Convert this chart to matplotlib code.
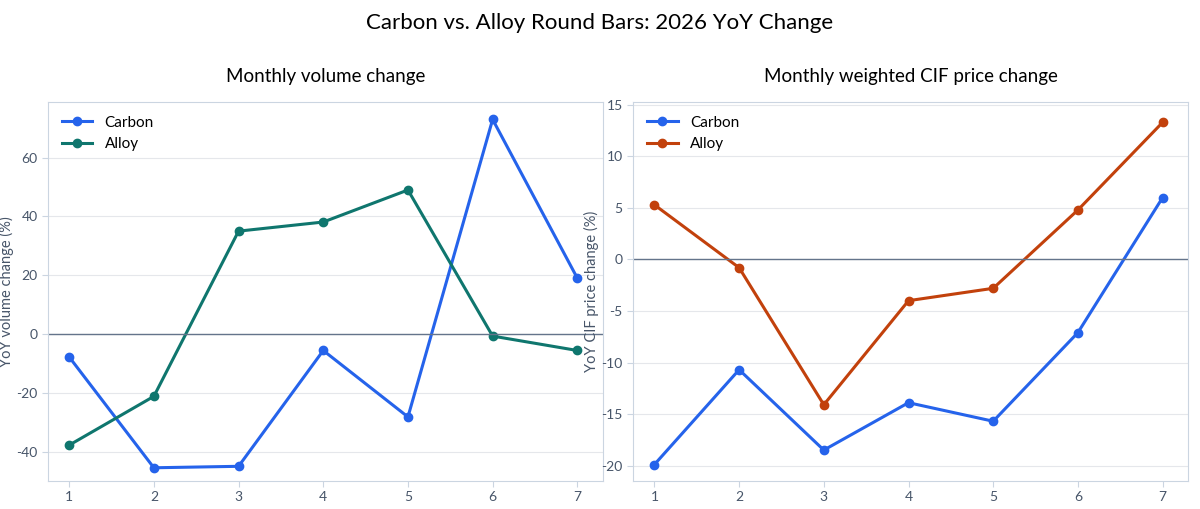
import matplotlib
matplotlib.use("Agg")
import matplotlib.pyplot as plt

plt.rcParams['font.family'] = ['Lato', 'DejaVu Sans']
plt.rcParams['axes.unicode_minus'] = False

months = [1, 2, 3, 4, 5, 6, 7]
vol_carbon = [-7.8, -45.5, -45.0, -5.6, -28.2, 73.0, 19.0]
vol_alloy = [-37.8, -21.2, 35.0, 38.1, 49.0, -0.7, -5.6]
price_carbon = [-19.9, -10.7, -18.5, -13.9, -15.7, -7.1, 6.0]
price_alloy = [5.3, -0.8, -14.1, -4.0, -2.8, 4.8, 13.3]

blue = '#2563eb'
green = '#0f766e'
orange = '#c2410c'
spine = '#cbd5e1'
txt = '#475569'

fig, axes = plt.subplots(1, 2, figsize=(12, 5.09), dpi=100)
fig.subplots_adjust(left=0.04, right=0.99, top=0.80, bottom=0.055, wspace=0.055)
fig.suptitle('Carbon vs. Alloy Round Bars: 2026 YoY Change', fontsize=16, y=0.975)

def style(ax, title, ylabel):
    ax.set_title(title, fontsize=13.5, pad=14)
    ax.set_ylabel(ylabel, fontsize=10.5, color=txt, labelpad=2)
    ax.grid(axis='y', color='#e5e7eb', lw=0.8)
    ax.set_axisbelow(True)
    ax.axhline(0, color='#64748b', lw=1)
    for s in ax.spines.values():
        s.set_color(spine)
    ax.tick_params(colors=txt, labelsize=10, length=4, color=spine)
    ax.set_xticks(months)
    ax.set_xlim(0.75, 7.3)
    ax.legend(loc='upper left', frameon=False, fontsize=11)

ax = axes[0]
ax.plot(months, vol_carbon, '-o', color=blue, lw=2.2, ms=6, label='Carbon')
ax.plot(months, vol_alloy, '-o', color=green, lw=2.2, ms=6, label='Alloy')
ax.set_ylim(-50, 79)
ax.set_yticks([-40, -20, 0, 20, 40, 60])
style(ax, 'Monthly volume change', 'YoY volume change (%)')

ax = axes[1]
ax.plot(months, price_carbon, '-o', color=blue, lw=2.2, ms=6, label='Carbon')
ax.plot(months, price_alloy, '-o', color=orange, lw=2.2, ms=6, label='Alloy')
ax.set_ylim(-21.5, 15.3)
ax.set_yticks([-20, -15, -10, -5, 0, 5, 10, 15])
style(ax, 'Monthly weighted CIF price change', 'YoY CIF price change (%)')

fig.savefig('out.png')
